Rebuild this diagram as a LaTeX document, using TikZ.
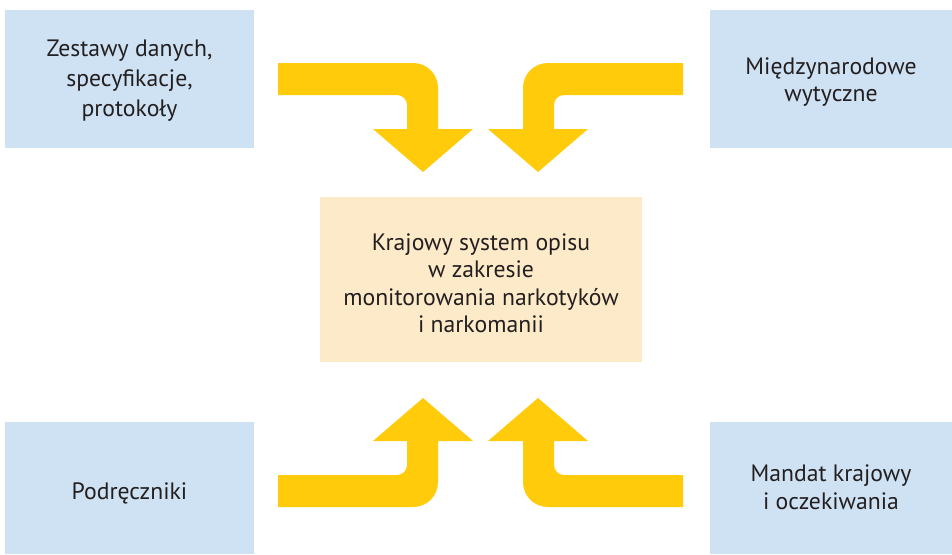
\documentclass[tikz,border=0pt]{standalone}
\usepackage{fontspec}
\setmainfont{PT Sans}
\definecolor{boxblue}{RGB}{207,226,243}
\definecolor{boxpeach}{RGB}{253,234,200}
\definecolor{arrowyellow}{RGB}{255,203,10}
\definecolor{txt}{RGB}{35,31,32}
% bent arrow: horizontal shaft turning down into a head
\newcommand\bentarrow{%
  \fill[arrowyellow] (278,63) -- (413,63)
    .. controls (427,63) and (438,74) .. (438,88)
    -- (438,129) -- (473,129) -- (423,172) -- (373,129) -- (407,129)
    -- (407,105) .. controls (407,99.5) and (402.5,95) .. (397,95)
    -- (278,95) -- cycle;}
\begin{document}
\begin{tikzpicture}[x=1pt,y=-1pt,
  every node/.style={font=\fontsize{23.7}{27.5}\selectfont, text=txt, align=center},
  side/.style={fill=boxblue},
  core/.style={fill=boxpeach}]
\useasboundingbox (0,0) rectangle (952,554);
% boxes
\fill[side] (5,10) rectangle (254,148);
\fill[side] (710,10) rectangle (952,148);
\fill[side] (5,422) rectangle (254,554);
\fill[side] (710,422) rectangle (952,554);
\fill[core] (320,197) rectangle (642,362);
% labels
\node[font=\fontsize{23.7}{30}\selectfont] (data) at (129.5,81) {Zestawy danych,\\specyfikacje,\\protokoły};
\node (intl) at (831,82) {Międzynarodowe\\wytyczne};
\node (sys) at (481,283) {Krajowy system opisu\\w zakresie\\monitorowania narkotyków\\i narkomanii};
\node (manual) at (129.5,493) {Podręczniki};
\node (mandate) at (831,487) {Mandat krajowy\\i oczekiwania};
% arrows
\bentarrow
\begin{scope}[shift={(961,0)},xscale=-1]\bentarrow\end{scope}
\begin{scope}[shift={(0,570)},yscale=-1]\bentarrow\end{scope}
\begin{scope}[shift={(961,570)},xscale=-1,yscale=-1]\bentarrow\end{scope}
\end{tikzpicture}
\end{document}
